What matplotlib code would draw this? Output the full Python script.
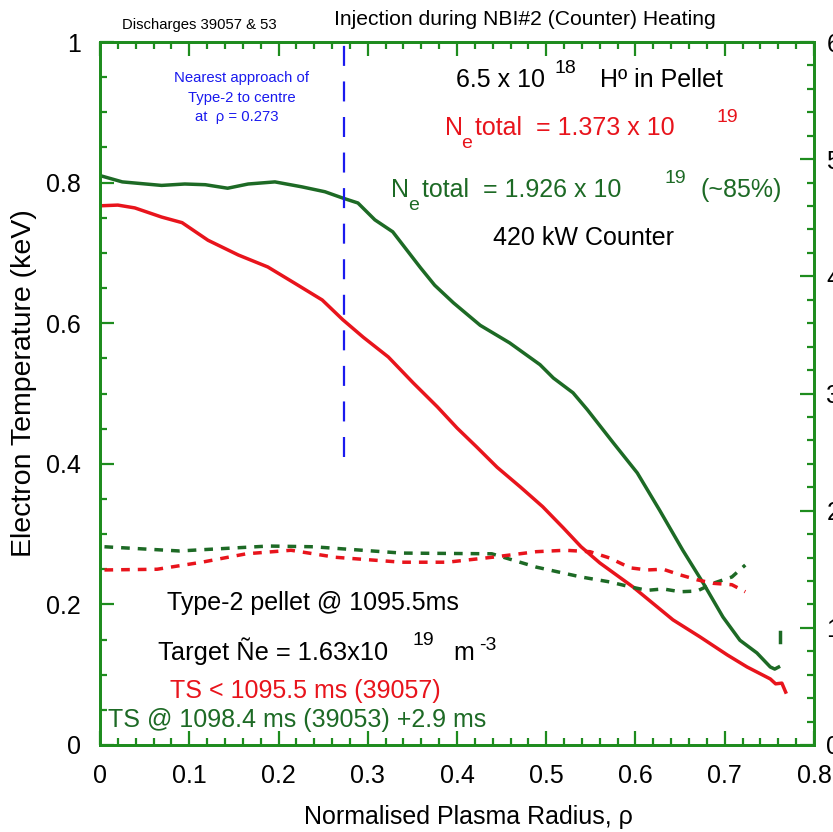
import matplotlib
matplotlib.use("Agg")
import matplotlib.pyplot as plt
import numpy as np
from matplotlib.ticker import MultipleLocator

plt.rcParams['font.family'] = ['Liberation Sans', 'DejaVu Sans']

# ---------------- data ----------------
green_x = [0.0, 0.025, 0.069, 0.095, 0.118, 0.143, 0.166, 0.196, 0.226, 0.252, 0.272, 0.289,
           0.308, 0.328, 0.359, 0.375, 0.396, 0.426, 0.459, 0.493, 0.508, 0.530, 0.546, 0.575,
           0.602, 0.627, 0.653, 0.676, 0.698, 0.717, 0.736, 0.751, 0.756, 0.762]
green_y = [0.810, 0.801, 0.796, 0.798, 0.797, 0.792, 0.798, 0.801, 0.794, 0.787, 0.778, 0.771,
           0.747, 0.730, 0.679, 0.654, 0.629, 0.597, 0.572, 0.541, 0.522, 0.501, 0.477, 0.430,
           0.387, 0.334, 0.277, 0.230, 0.182, 0.149, 0.131, 0.111, 0.108, 0.112]

red_x = [0.0, 0.020, 0.039, 0.069, 0.092, 0.121, 0.155, 0.188, 0.218, 0.249, 0.272, 0.295,
         0.323, 0.351, 0.378, 0.400, 0.422, 0.445, 0.471, 0.496, 0.519, 0.539, 0.560, 0.597,
         0.642, 0.672, 0.703, 0.725, 0.751, 0.757, 0.764, 0.769]
red_y = [0.767, 0.768, 0.764, 0.751, 0.743, 0.718, 0.697, 0.680, 0.657, 0.633, 0.605, 0.580,
         0.552, 0.515, 0.481, 0.451, 0.424, 0.395, 0.367, 0.339, 0.309, 0.282, 0.259, 0.225,
         0.178, 0.154, 0.128, 0.111, 0.094, 0.087, 0.088, 0.073]

green_ts_x = [0.005, 0.089, 0.189, 0.239, 0.338, 0.439, 0.489, 0.539, 0.571, 0.594, 0.613,
              0.631, 0.650, 0.669, 0.687, 0.708, 0.723]
green_ts_y = [0.282, 0.276, 0.283, 0.282, 0.273, 0.272, 0.253, 0.239, 0.232, 0.225, 0.220,
              0.222, 0.218, 0.219, 0.230, 0.239, 0.256]
green_ts_tail_x = [0.762, 0.762]
green_ts_tail_y = [0.161, 0.147]

red_ts_x = [0.005, 0.064, 0.114, 0.164, 0.214, 0.264, 0.338, 0.389, 0.439, 0.489, 0.521,
            0.549, 0.571, 0.594, 0.613, 0.631, 0.650, 0.669, 0.687, 0.708, 0.723]
red_ts_y = [0.249, 0.250, 0.260, 0.272, 0.277, 0.267, 0.260, 0.260, 0.267, 0.275, 0.277,
            0.275, 0.266, 0.252, 0.249, 0.250, 0.242, 0.235, 0.230, 0.228, 0.218]

rho_min = 0.273
rho_line_y = [0.41, 1.0]

x_ticks = [0, 0.1, 0.2, 0.3, 0.4, 0.5, 0.6, 0.7, 0.8]
x_labels = ['0', '0.1', '0.2', '0.3', '0.4', '0.5', '0.6', '0.7', '0.8']
y_ticks = [0, 0.2, 0.4, 0.6, 0.8, 1.0]
y_labels = ['0', '0.2', '0.4', '0.6', '0.8', '1']
y2_ticks = [0, 1, 2, 3, 4, 5, 6]

# ---------------- style ----------------
W, H = 833, 832
RED = '#e8141c'
DGREEN = '#1d6a25'
FRAME = '#1e8c1e'
BLUE = '#1a1aee'

fig = plt.figure(figsize=(W / 100, H / 100), dpi=100)
ax = fig.add_axes([100 / W, 1 - 745 / H, 714 / W, 703 / H])

ax.plot(green_x, green_y, color=DGREEN, lw=2.5, solid_capstyle='butt')
ax.plot(red_x, red_y, color=RED, lw=2.5, solid_capstyle='butt')
ax.plot(green_ts_x, green_ts_y, color=DGREEN, lw=2.5, dashes=(2.5, 2.3))
ax.plot(green_ts_tail_x, green_ts_tail_y, color=DGREEN, lw=2.5)
ax.plot(red_ts_x, red_ts_y, color=RED, lw=2.5, dashes=(2.5, 2.3))
ax.plot([rho_min, rho_min], rho_line_y, color=BLUE, lw=1.6, dashes=(9, 7))

ax.set_xlim(0, 0.8)
ax.set_ylim(0, 1)
ax.set_xticks(x_ticks)
ax.set_xticklabels(x_labels)
ax.set_yticks(y_ticks)
ax.set_yticklabels(y_labels)
ax.xaxis.set_minor_locator(MultipleLocator(0.02))
ax.yaxis.set_minor_locator(MultipleLocator(0.05))
for s in ax.spines.values():
    s.set_color(FRAME)
    s.set_linewidth(2.0)
ax.tick_params(axis='both', which='both', direction='in', color=FRAME, width=1.6,
               top=True, right=False, labelsize=18)
ax.tick_params(axis='both', which='major', length=10)
ax.tick_params(axis='both', which='minor', length=5)
ax.tick_params(axis='x', pad=14)
ax.tick_params(axis='y', pad=14)

ax2 = ax.twinx()
ax2.set_ylim(0, 6)
ax2.set_yticks(y2_ticks)
ax2.yaxis.set_minor_locator(MultipleLocator(0.2))
ax2.tick_params(axis='y', which='both', direction='in', color=FRAME, width=1.6,
                labelsize=18, pad=9)
ax2.tick_params(axis='y', which='major', length=10)
ax2.tick_params(axis='y', which='minor', length=5)
for s in ax2.spines.values():
    s.set_color(FRAME)
    s.set_linewidth(2.0)

ax.set_xlabel('Normalised Plasma Radius, ρ', fontsize=18)
ax.xaxis.set_label_coords(0.516, -0.086)
ax.set_ylabel('Electron Temperature (keV)', fontsize=20.5)
ax.yaxis.set_label_coords(-0.088, 0.515)


def T(x, y, s, size, color='black', ha='left', va='baseline'):
    fig.text(x / W, 1 - y / H, s, fontsize=size, color=color, ha=ha, va=va)


T(122, 29, 'Discharges 39057 & 53', 10.7)
T(525, 25, 'Injection during NBI#2 (Counter) Heating', 15.2, ha='center')

T(242, 82, 'Nearest approach of', 10.7, BLUE, ha='center')
T(242, 102, 'Type-2 to centre', 10.7, BLUE, ha='center')
T(237, 121, 'at  ρ = 0.273', 10.7, BLUE, ha='center')

T(456, 87, '6.5 x 10', 18)
T(554, 73, '18', 14)
T(600, 87, 'Hº in Pellet', 18)

T(445, 135, 'N', 18, RED)
T(461, 148, 'e', 14, RED)
T(475, 135, 'total  = 1.373 x 10', 18, RED)
T(717, 122, '19', 14, RED)

T(391, 197, 'N', 18, DGREEN)
T(408, 210, 'e', 14, DGREEN)
T(422, 197, 'total  = 1.926 x 10', 18, DGREEN)
T(664, 183, '19', 14, DGREEN)
T(700, 197, '(~85%)', 18, DGREEN)

T(493, 245, '420 kW Counter', 18)

T(167, 610, 'Type-2 pellet @ 1095.5ms', 18)
T(158, 660, 'Target Ñe = 1.63x10', 18.3)
T(413, 645, '19', 14)
T(453, 660, 'm', 18)
T(479, 650, '-3', 14)
T(170, 698, 'TS < 1095.5 ms (39057)', 18, RED)
T(108, 727, 'TS @ 1098.4 ms (39053) +2.9 ms', 18, DGREEN)

fig.savefig('out.png', dpi=100)
